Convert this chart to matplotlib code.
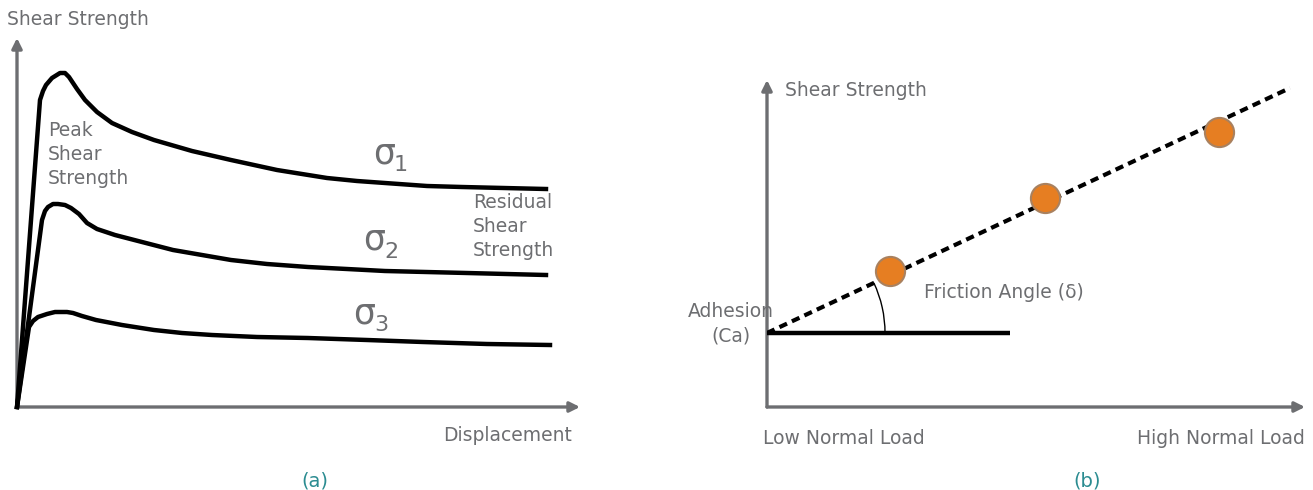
import numpy as np
import matplotlib.pyplot as plt
from matplotlib.patches import Arc

plt.rcParams['font.family'] = ['DejaVu Sans']

gray = '#6d6e71'
teal = '#2b8c91'

# (a) shear strength vs displacement, three normal stresses
disp1 = [0, 23, 26, 29, 35, 43, 48, 52, 60, 68, 80, 95, 115, 137, 175, 214, 260, 310, 340, 368, 410, 445, 529]
tau1 = [0, 307, 316, 322, 329, 334, 334, 330, 318, 307, 295, 284, 275, 267, 256, 247, 237, 229, 226, 224, 221, 220, 218]

disp2 = [0, 25, 28, 31, 36, 41, 48, 54, 62, 70, 80, 98, 125, 156, 185, 214, 250, 291, 330, 368, 450, 529]
tau2 = [0, 187, 196, 200, 203, 203, 202, 199, 193, 184, 178, 172, 165, 157, 152, 147, 143, 140, 138, 136, 134, 132]

disp3 = [0, 12, 16, 21, 30, 38, 45, 50, 56, 65, 79, 105, 137, 165, 195, 240, 291, 350, 406, 470, 533]
tau3 = [0, 80, 86, 90, 93, 95, 95, 95, 94, 91, 87, 82, 77, 74, 72, 70, 69, 67, 65, 63, 62]

# (b) shear strength vs normal load
adhesion = 74
base_end = 243
fit_x = [0, 523]
fit_y = [74, 319]
load = [123, 278, 452]
strength = [136, 209, 275]

fig = plt.figure(figsize=(13.13, 4.9), dpi=100)
W, H = 1313, 490

axa = fig.add_axes([17 / W, 83 / H, 563 / W, 369 / H])
axa.set_xlim(0, 563)
axa.set_ylim(0, 369)
axa.axis('off')

axb = fig.add_axes([767 / W, 83 / H, 538 / W, 327 / H])
axb.set_xlim(0, 538)
axb.set_ylim(0, 327)
axb.axis('off')

arrow = dict(arrowstyle='-|>', lw=2.4, color=gray, mutation_scale=15, shrinkA=0, shrinkB=0)
for ax in (axa, axb):
    ax.annotate('', xy=(1, 0), xytext=(0, 0), xycoords='axes fraction', arrowprops=arrow, zorder=1)
    ax.annotate('', xy=(0, 1), xytext=(0, 0), xycoords='axes fraction', arrowprops=arrow, zorder=1)

for d, t in [(disp1, tau1), (disp2, tau2), (disp3, tau3)]:
    axa.plot(d, t, color='black', lw=3.2, solid_joinstyle='round', clip_on=False, zorder=3)

fs = 13.5
axa.text(-10, 387, 'Shear Strength', color=gray, fontsize=fs, ha='left', va='center')
axa.text(31, 286, 'Peak\nShear\nStrength', color=gray, fontsize=fs, ha='left', va='top', linespacing=1.35)
axa.text(456, 214, 'Residual\nShear\nStrength', color=gray, fontsize=fs, ha='left', va='top', linespacing=1.35)
axa.text(555, -28, 'Displacement', color=gray, fontsize=fs, ha='right', va='center')
axa.text(298, -74, '(a)', color=teal, fontsize=14, ha='center', va='center')

for sx, sy, sub in [(367, 254, '1'), (357, 167, '2'), (347, 94, '3')]:
    axa.text(sx, sy, 'σ', color=gray, fontsize=25, ha='center', va='center')
    axa.text(sx + 17, sy - 12, sub, color=gray, fontsize=16, ha='center', va='center')

axb.plot([0, base_end], [adhesion, adhesion], color='black', lw=3.2, solid_capstyle='butt', zorder=3)
axb.plot(fit_x, fit_y, color='black', lw=3.0, linestyle=(0, (2, 1.3)), zorder=3)
ang = np.degrees(np.arctan2(fit_y[1] - fit_y[0], fit_x[1] - fit_x[0]))
axb.add_patch(Arc((0, adhesion), 236, 236, theta1=0, theta2=ang, color='black', lw=1.0, zorder=3))
axb.plot(load, strength, 'o', ms=21, mfc='#e67e22', mec='#a9815f', mew=1.5, zorder=4, clip_on=False)

axb.text(18, 317, 'Shear Strength', color=gray, fontsize=fs, ha='left', va='center')
axb.text(-36, 83, 'Adhesion\n(Ca)', color=gray, fontsize=fs, ha='center', va='center', linespacing=1.35)
axb.text(157, 114, 'Friction Angle (δ)', color=gray, fontsize=fs, ha='left', va='center')
axb.text(-4, -31, 'Low Normal Load', color=gray, fontsize=fs, ha='left', va='center')
axb.text(538, -31, 'High Normal Load', color=gray, fontsize=fs, ha='right', va='center')
axb.text(320, -74, '(b)', color=teal, fontsize=14, ha='center', va='center')

fig.savefig('out.png', dpi=100, facecolor='white')
